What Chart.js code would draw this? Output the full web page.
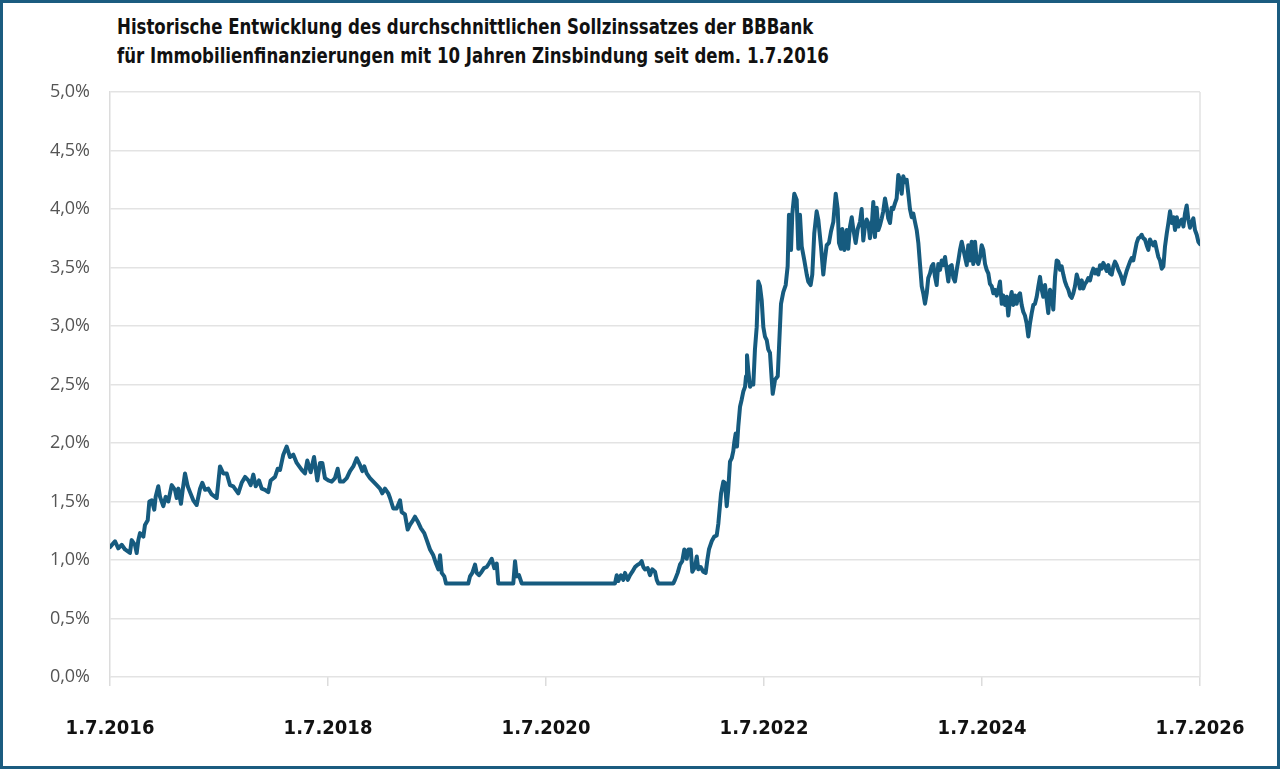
<!DOCTYPE html>
<html lang="de">
<head>
<meta charset="utf-8">
<script src="https://cdn.jsdelivr.net/npm/chart.js@4.4.1/dist/chart.umd.min.js"></script>
<style>
  html, body { margin: 0; padding: 0; background: #fff; }
  #frame { position: relative; width: 1280px; height: 769px; box-sizing: border-box; border: 3px solid #1b5c80; overflow: hidden; }
  #chartCanvas { position: absolute; left: -3px; top: -3px; }
  .title { position: absolute; left: 114px; font-family: "DejaVu Sans Condensed", "DejaVu Sans", sans-serif; font-weight: bold; font-size: 21px; color: #111; white-space: nowrap; line-height: 1; transform: scaleX(0.878); transform-origin: 0 0; }
</style>
</head>
<body>
<div id="frame">
  <div class="title" id="t1" style="top:14px;"></div>
  <div class="title" id="t2" style="top:43px;"></div>
  <canvas id="chartCanvas" width="1280" height="769"></canvas>
</div>
<script>
const titleLines = [
  "Historische Entwicklung des durchschnittlichen Sollzinssatzes der BBBank",
  "für Immobilienfinanzierungen mit 10 Jahren Zinsbindung seit dem. 1.7.2016"
];

// Start date 1.7.2016 as decimal year
const startYear = 2016.5;

const yearsSinceStart = [
  0.000, 0.046, 0.076, 0.107, 0.138, 0.183, 0.199, 0.229, 0.245, 0.260,
  0.275, 0.306, 0.321, 0.346, 0.361, 0.383, 0.406, 0.419, 0.443, 0.459,
  0.489, 0.511, 0.535, 0.566, 0.596, 0.612, 0.627, 0.651, 0.667, 0.688,
  0.713, 0.734, 0.764, 0.795, 0.826, 0.847, 0.872, 0.902, 0.933, 0.979,
  1.009, 1.039, 1.071, 1.101, 1.131, 1.177, 1.208, 1.239, 1.269, 1.291,
  1.315, 1.337, 1.367, 1.392, 1.422, 1.452, 1.474, 1.514, 1.539, 1.560,
  1.590, 1.621, 1.651, 1.682, 1.713, 1.759, 1.789, 1.810, 1.841, 1.872,
  1.902, 1.927, 1.948, 1.972, 2.003, 2.034, 2.064, 2.089, 2.110, 2.140,
  2.172, 2.202, 2.232, 2.263, 2.294, 2.315, 2.333, 2.355, 2.385, 2.416,
  2.447, 2.477, 2.498, 2.523, 2.553, 2.569, 2.599, 2.630, 2.661, 2.676,
  2.706, 2.731, 2.752, 2.773, 2.798, 2.823, 2.853, 2.883, 2.906, 2.936,
  2.966, 2.991, 3.012, 3.028, 3.043, 3.067, 3.083, 3.287, 3.303, 3.324,
  3.349, 3.364, 3.385, 3.410, 3.431, 3.456, 3.477, 3.502, 3.526, 3.548,
  3.562, 3.700, 3.716, 3.731, 3.752, 3.777, 4.633, 4.649, 4.663, 4.688,
  4.709, 4.725, 4.750, 4.771, 4.792, 4.817, 4.841, 4.862, 4.878, 4.893,
  4.908, 4.933, 4.954, 4.975, 5.000, 5.016, 5.030, 5.168, 5.183, 5.208,
  5.229, 5.250, 5.269, 5.291, 5.306, 5.328, 5.342, 5.367, 5.383, 5.397,
  5.419, 5.443, 5.465, 5.480, 5.495, 5.520, 5.544, 5.566, 5.581, 5.606,
  5.627, 5.642, 5.658, 5.672, 5.688, 5.704, 5.718, 5.728, 5.740, 5.752,
  5.764, 5.780, 5.795, 5.810, 5.826, 5.835, 5.844, 5.856, 5.872, 5.887,
  5.902, 5.917, 5.933, 5.948, 5.963, 5.979, 5.994, 6.009, 6.025, 6.039,
  6.055, 6.071, 6.080, 6.101, 6.126, 6.138, 6.156, 6.177, 6.199, 6.217,
  6.229, 6.248, 6.260, 6.278, 6.300, 6.315, 6.330, 6.346, 6.370, 6.392,
  6.406, 6.428, 6.443, 6.461, 6.483, 6.498, 6.523, 6.544, 6.560, 6.575,
  6.596, 6.615, 6.636, 6.658, 6.676, 6.688, 6.706, 6.718, 6.737, 6.759,
  6.773, 6.789, 6.805, 6.819, 6.841, 6.860, 6.881, 6.896, 6.911, 6.927,
  6.942, 6.957, 6.972, 6.988, 7.003, 7.018, 7.034, 7.049, 7.064, 7.080,
  7.094, 7.110, 7.126, 7.140, 7.156, 7.171, 7.186, 7.202, 7.217, 7.232,
  7.248, 7.263, 7.278, 7.294, 7.309, 7.324, 7.339, 7.355, 7.370, 7.385,
  7.401, 7.416, 7.431, 7.447, 7.461, 7.477, 7.493, 7.507, 7.523, 7.538,
  7.553, 7.569, 7.584, 7.599, 7.615, 7.630, 7.645, 7.661, 7.676, 7.691,
  7.706, 7.722, 7.737, 7.752, 7.768, 7.783, 7.798, 7.814, 7.828, 7.844,
  7.860, 7.874, 7.890, 7.905, 7.920, 7.936, 7.951, 7.966, 7.982, 7.997,
  8.012, 8.028, 8.043, 8.058, 8.073, 8.089, 8.104, 8.119, 8.135, 8.150,
  8.165, 8.181, 8.195, 8.211, 8.227, 8.241, 8.257, 8.272, 8.287, 8.303,
  8.318, 8.333, 8.349, 8.364, 8.379, 8.394, 8.410, 8.425, 8.440, 8.456,
  8.471, 8.486, 8.502, 8.517, 8.532, 8.548, 8.562, 8.578, 8.594, 8.608,
  8.624, 8.639, 8.654, 8.670, 8.685, 8.700, 8.716, 8.731, 8.746, 8.761,
  8.777, 8.792, 8.807, 8.823, 8.838, 8.853, 8.869, 8.884, 8.899, 8.915,
  8.929, 8.945, 8.961, 8.975, 8.991, 9.006, 9.021, 9.037, 9.052, 9.067,
  9.083, 9.098, 9.113, 9.128, 9.144, 9.159, 9.174, 9.190, 9.205, 9.220,
  9.236, 9.251, 9.266, 9.282, 9.296, 9.312, 9.327, 9.342, 9.358, 9.373,
  9.388, 9.404, 9.419, 9.434, 9.450, 9.465, 9.480, 9.495, 9.511, 9.526,
  9.541, 9.557, 9.572, 9.587, 9.603, 9.618, 9.633, 9.649, 9.664, 9.679,
  9.695, 9.710, 9.725, 9.741, 9.756, 9.771, 9.787, 9.802, 9.817, 9.833,
  9.848, 9.862, 9.878, 9.893, 9.908, 9.924, 9.939, 9.954, 9.970, 9.985,
  10.000
];

// Average borrowing rate in % at each date
const rates = [
  1.11, 1.16, 1.10, 1.13, 1.09, 1.06, 1.17, 1.13, 1.06, 1.17,
  1.23, 1.20, 1.30, 1.34, 1.50, 1.51, 1.43, 1.54, 1.63, 1.54,
  1.46, 1.54, 1.50, 1.64, 1.60, 1.53, 1.61, 1.48, 1.60, 1.74,
  1.63, 1.58, 1.51, 1.47, 1.61, 1.66, 1.60, 1.61, 1.56, 1.53,
  1.80, 1.74, 1.74, 1.64, 1.63, 1.57, 1.66, 1.71, 1.68, 1.64,
  1.73, 1.63, 1.68, 1.61, 1.60, 1.58, 1.68, 1.71, 1.78, 1.77,
  1.90, 1.97, 1.88, 1.90, 1.83, 1.77, 1.74, 1.85, 1.75, 1.88,
  1.68, 1.83, 1.83, 1.70, 1.68, 1.67, 1.70, 1.78, 1.67, 1.67,
  1.70, 1.76, 1.80, 1.87, 1.81, 1.76, 1.80, 1.74, 1.70, 1.67,
  1.64, 1.61, 1.57, 1.61, 1.57, 1.53, 1.44, 1.44, 1.51, 1.41,
  1.39, 1.26, 1.30, 1.33, 1.37, 1.33, 1.27, 1.23, 1.17, 1.09,
  1.04, 0.97, 0.92, 1.04, 0.89, 0.86, 0.80, 0.80, 0.86, 0.89,
  0.96, 0.89, 0.87, 0.90, 0.93, 0.94, 0.97, 1.01, 0.93, 0.97,
  0.80, 0.80, 0.99, 0.86, 0.87, 0.80, 0.80, 0.87, 0.82, 0.87,
  0.83, 0.89, 0.83, 0.87, 0.90, 0.94, 0.96, 0.97, 0.99, 0.94,
  0.92, 0.93, 0.87, 0.92, 0.90, 0.83, 0.80, 0.80, 0.83, 0.89,
  0.96, 0.99, 1.09, 1.01, 1.09, 1.09, 0.90, 0.94, 1.03, 0.92,
  0.94, 0.90, 0.89, 1.00, 1.09, 1.16, 1.20, 1.21, 1.31, 1.57,
  1.67, 1.66, 1.46, 1.60, 1.84, 1.87, 1.93, 2.01, 2.08, 1.97,
  2.14, 2.31, 2.37, 2.44, 2.48, 2.57, 2.75, 2.62, 2.48, 2.51,
  2.50, 2.80, 2.99, 3.38, 3.34, 3.22, 2.99, 2.91, 2.88, 2.80,
  2.77, 2.54, 2.42, 2.54, 2.57, 2.82, 3.19, 3.29, 3.35, 3.51,
  3.95, 3.65, 3.96, 4.13, 4.08, 3.66, 3.95, 3.68, 3.56, 3.44,
  3.38, 3.35, 3.44, 3.79, 3.98, 3.91, 3.68, 3.44, 3.58, 3.69,
  3.71, 3.81, 3.89, 4.13, 4.00, 3.71, 3.66, 3.83, 3.65, 3.82,
  3.66, 3.85, 3.93, 3.83, 3.71, 3.83, 3.89, 4.00, 3.73, 3.86,
  3.91, 3.88, 3.75, 3.85, 4.06, 3.76, 4.01, 3.82, 3.86, 3.92,
  3.98, 4.09, 4.01, 3.92, 3.88, 4.01, 4.00, 4.05, 4.09, 4.29,
  4.25, 4.13, 4.28, 4.23, 4.25, 4.13, 4.00, 3.93, 3.96, 3.89,
  3.82, 3.71, 3.53, 3.34, 3.28, 3.19, 3.28, 3.41, 3.45, 3.51,
  3.53, 3.42, 3.35, 3.53, 3.48, 3.56, 3.52, 3.59, 3.48, 3.38,
  3.51, 3.52, 3.41, 3.38, 3.48, 3.56, 3.65, 3.72, 3.66, 3.59,
  3.52, 3.69, 3.56, 3.72, 3.53, 3.72, 3.56, 3.53, 3.59, 3.69,
  3.65, 3.53, 3.48, 3.45, 3.36, 3.34, 3.28, 3.31, 3.26, 3.31,
  3.38, 3.19, 3.26, 3.18, 3.25, 3.09, 3.22, 3.29, 3.18, 3.26,
  3.19, 3.26, 3.28, 3.18, 3.12, 3.09, 3.02, 2.91, 3.02, 3.11,
  3.18, 3.19, 3.25, 3.34, 3.42, 3.31, 3.25, 3.35, 3.22, 3.11,
  3.31, 3.28, 3.14, 3.42, 3.56, 3.55, 3.48, 3.51, 3.44, 3.38,
  3.34, 3.31, 3.26, 3.24, 3.28, 3.34, 3.44, 3.39, 3.32, 3.39,
  3.32, 3.36, 3.38, 3.41, 3.39, 3.45, 3.49, 3.45, 3.48, 3.44,
  3.52, 3.49, 3.54, 3.51, 3.47, 3.52, 3.45, 3.44, 3.51, 3.55,
  3.52, 3.48, 3.45, 3.41, 3.36, 3.42, 3.47, 3.51, 3.55, 3.58,
  3.56, 3.64, 3.71, 3.75, 3.76, 3.78, 3.75, 3.74, 3.69, 3.65,
  3.74, 3.71, 3.69, 3.72, 3.65, 3.59, 3.56, 3.49, 3.51, 3.68,
  3.79, 3.88, 3.98, 3.88, 3.93, 3.82, 3.93, 3.85, 3.89, 3.91,
  3.85, 3.96, 4.03, 3.91, 3.84, 3.89, 3.92, 3.82, 3.78, 3.72,
  3.70
];

// X axis ticks (decimal years) and their labels
const xTickValues = [2016.5, 2018.5, 2020.5, 2022.5, 2024.5, 2026.5];
const xTickLabels = ["1.7.2016", "1.7.2018", "1.7.2020", "1.7.2022", "1.7.2024", "1.7.2026"];

// Y axis range / step in %
const yMin = 0, yMax = 5, yStep = 0.5;

document.getElementById('t1').textContent = titleLines[0];
document.getElementById('t2').textContent = titleLines[1];

const points = rates.map((v, i) => ({ x: startYear + yearsSinceStart[i], y: v }));

const rightBorder = {
  id: 'rightBorder',
  beforeDatasetsDraw(chart) {
    const { ctx, chartArea } = chart;
    ctx.save();
    ctx.strokeStyle = '#e2e2e2';
    ctx.lineWidth = 1.5;
    ctx.beginPath();
    ctx.moveTo(chartArea.right, chartArea.top);
    ctx.lineTo(chartArea.right, chartArea.bottom);
    ctx.stroke();
    ctx.restore();
  }
};

new Chart(document.getElementById('chartCanvas'), {
  type: 'line',
  data: {
    datasets: [{
      data: points,
      borderColor: '#165b7f',
      borderWidth: 4,
      pointRadius: 0,
      tension: 0,
      borderJoinStyle: 'round',
      borderCapStyle: 'round'
    }]
  },
  options: {
    responsive: false,
    animation: false,
    devicePixelRatio: 1,
    layout: { padding: { left: 0, right: 80, top: 92, bottom: 0 } },
    plugins: { legend: { display: false }, tooltip: { enabled: false }, title: { display: false } },
    scales: {
      x: {
        type: 'linear',
        min: xTickValues[0],
        max: xTickValues[xTickValues.length - 1],
        afterBuildTicks(scale) { scale.ticks = xTickValues.map(v => ({ value: v })); },
        afterFit(scale) { scale.height = 92; },
        ticks: {
          callback: (v) => xTickLabels[xTickValues.indexOf(v)] ?? '',
          color: '#111',
          font: { family: '"DejaVu Sans Condensed", "DejaVu Sans", sans-serif', weight: 'bold', size: 20 },
          padding: 31,
          maxRotation: 0,
          autoSkip: false
        },
        grid: { drawOnChartArea: false, tickLength: 9, color: '#dcdcdc', lineWidth: 1.5 },
        border: { display: false }
      },
      y: {
        min: yMin,
        max: yMax,
        afterFit(scale) { scale.width = 110; },
        ticks: {
          stepSize: yStep,
          callback: (v) => v.toFixed(1).replace('.', ',') + '%',
          color: '#555',
          font: { family: '"Open Sans", sans-serif', size: 18 },
          padding: 20
        },
        grid: { color: '#e3e3e3', lineWidth: 1.5, drawTicks: false },
        border: { display: true, color: '#dcdcdc', width: 1.5 }
      }
    }
  },
  plugins: [rightBorder]
});
</script>
</body>
</html>
